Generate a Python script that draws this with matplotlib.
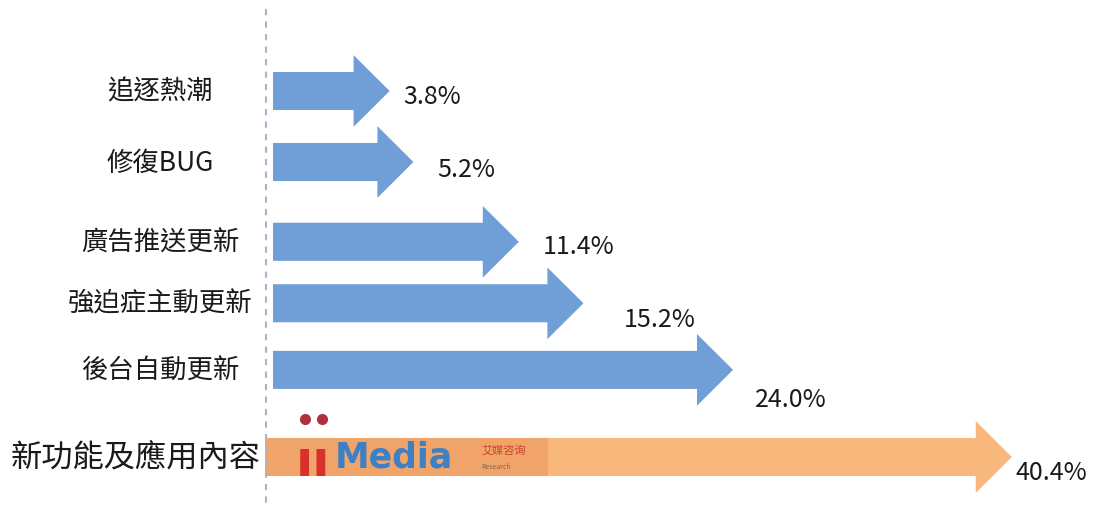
import matplotlib.pyplot as plt
from matplotlib.patches import FancyArrow, Rectangle

# data
categories = ['追逐熱潮', '修復BUG', '廣告推送更新', '強迫症主動更新', '後台自動更新', '新功能及應用內容']
values = [3.8, 5.2, 11.4, 15.2, 24.0, 40.4]
value_labels = ['3.8%', '5.2%', '11.4%', '15.2%', '24.0%', '40.4%']

# 行位置（版面）
row_pos = [0, 0.97, 2.06, 2.9, 3.81, 5.0]

plt.rcParams['font.family'] = ['Noto Sans CJK TC', 'DejaVu Sans']

blue = '#6f9fd6'
orange = '#f8b77b'
colors = [blue] * 5 + [orange]

fig = plt.figure(figsize=(10.98, 5.06), dpi=100)
ax = fig.add_axes([0, 0, 1, 1])
ax.set_xlim(-19.12, 45.47)
ax.set_ylim(5.656, -1.257)
ax.axis('off')

# 虚线
ax.plot([-3.47, -3.47], [-1.12, 5.656], ls=(0, (3, 3)), color='#a8b6cc', lw=1.5)

for i, (v, c) in enumerate(zip(values, colors)):
    start = -3.06 if i < 5 else -3.53
    arr = FancyArrow(start, row_pos[i], v - start, 0, width=0.52, head_width=0.98,
                     head_length=2.12, length_includes_head=True,
                     color=c, lw=0)
    ax.add_patch(arr)

# 标签
for i, cat in enumerate(categories):
    if i < 5:
        ax.text(-9.71, row_pos[i], cat, ha='center', va='center',
                fontsize=19, color='#1a1a1a')
    else:
        ax.text(-11.12, row_pos[i], cat, ha='center', va='center',
                fontsize=22.5, color='#1a1a1a')

# 数值
val_dx = [14, 24, 24, 40, 22, 4]
val_dy = [-5, -7, -4, -16, -29, -15]
for i, (v, lab) in enumerate(zip(values, value_labels)):
    ax.annotate(lab, (v, row_pos[i]), xytext=(val_dx[i], val_dy[i]),
                textcoords='offset pixels', ha='left', va='center',
                fontsize=18, color='#1a1a1a')

# iiMedia 水印
ax.add_patch(Rectangle((-3.53, 5 - 0.26), 16.65, 0.52, color='#eea066', lw=0, alpha=0.8))
ax.text(-1.7, 5.05, 'ıı', ha='left', va='center', fontsize=36,
        fontweight='bold', color='#d8302a', family='DejaVu Sans')
ax.plot([-1.18, -0.18], [4.48, 4.48], 'o', color='#b03040', ms=7)
ax.text(0.6, 5.0, 'Media', ha='left', va='center', fontsize=25,
        fontweight='bold', color='#3f7fc4', family='DejaVu Sans')
ax.text(9.2, 4.9, '艾媒咨询', ha='left', va='center', fontsize=8,
        color='#c8402a')
ax.text(9.2, 5.12, 'Research', ha='left', va='center', fontsize=5,
        color='#7a6a5a')

plt.savefig('out.png', dpi=100)
